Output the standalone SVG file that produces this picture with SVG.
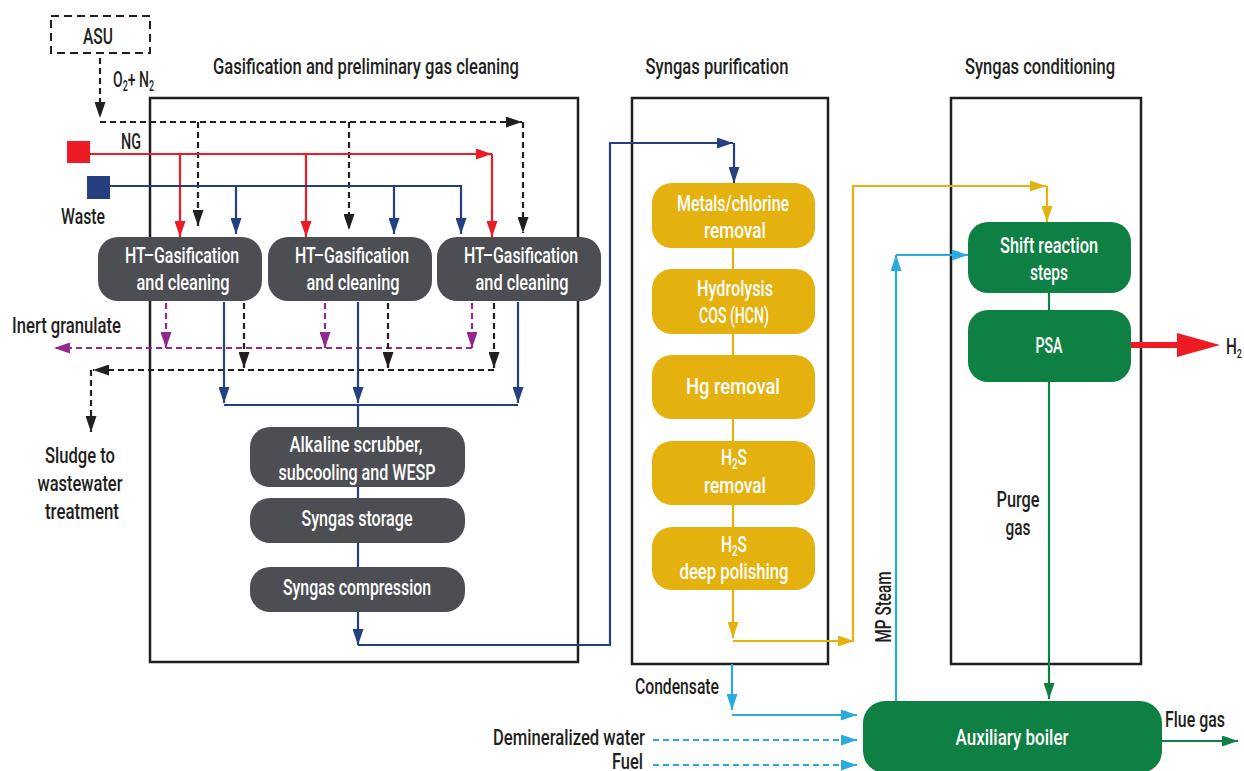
<svg xmlns="http://www.w3.org/2000/svg" width="1244" height="771" viewBox="0 0 1244 771">
<style>
.t{font-family:Roboto,"Liberation Sans",sans-serif;font-weight:500;font-size:22px;fill:#231f20}
.m{text-anchor:middle}
.e{text-anchor:end}
.w{fill:#ffffff}
.frame{fill:none;stroke:#231f20;stroke-width:2.5}
.gray{fill:#4d4e53}
.yel{fill:#e5b10f}
.grn{fill:#0f8043}
.c{fill:none;stroke-width:2.2}
.d{stroke-dasharray:6 4}
.k{stroke:#231f20}
.r{stroke:#ed1c24}
.n{stroke:#263f80}
.p{stroke:#92278f}
.y{stroke:#e5b10f}
.g{stroke:#0f8043}
.b{stroke:#29abe2}
</style>
<defs>
<marker id="ak" viewBox="0 0 16 11" refX="16" refY="5.5" markerWidth="16" markerHeight="11" markerUnits="userSpaceOnUse" orient="auto"><path d="M0,0L16,5.5L0,11z" fill="#231f20"/></marker>
<marker id="ar" viewBox="0 0 16 11" refX="16" refY="5.5" markerWidth="16" markerHeight="11" markerUnits="userSpaceOnUse" orient="auto"><path d="M0,0L16,5.5L0,11z" fill="#ed1c24"/></marker>
<marker id="an" viewBox="0 0 16 11" refX="16" refY="5.5" markerWidth="16" markerHeight="11" markerUnits="userSpaceOnUse" orient="auto"><path d="M0,0L16,5.5L0,11z" fill="#263f80"/></marker>
<marker id="ap" viewBox="0 0 16 11" refX="16" refY="5.5" markerWidth="16" markerHeight="11" markerUnits="userSpaceOnUse" orient="auto"><path d="M0,0L16,5.5L0,11z" fill="#92278f"/></marker>
<marker id="ay" viewBox="0 0 16 11" refX="16" refY="5.5" markerWidth="16" markerHeight="11" markerUnits="userSpaceOnUse" orient="auto"><path d="M0,0L16,5.5L0,11z" fill="#e5b10f"/></marker>
<marker id="ag" viewBox="0 0 16 11" refX="16" refY="5.5" markerWidth="16" markerHeight="11" markerUnits="userSpaceOnUse" orient="auto"><path d="M0,0L16,5.5L0,11z" fill="#0f8043"/></marker>
<marker id="ab" viewBox="0 0 16 11" refX="16" refY="5.5" markerWidth="16" markerHeight="11" markerUnits="userSpaceOnUse" orient="auto"><path d="M0,0L16,5.5L0,11z" fill="#29abe2"/></marker>
</defs>
<rect width="1244" height="771" fill="#ffffff"/>

<g id="frames">
<rect id="frame-gasification" class="frame" x="150" y="98" width="428" height="564"/>
<rect id="frame-purification" class="frame" x="632" y="98" width="196" height="566"/>
<rect id="frame-conditioning" class="frame" x="951" y="98" width="190" height="566"/>
<text class="t m" x="366" y="74" textLength="306" lengthAdjust="spacingAndGlyphs">Gasification and preliminary gas cleaning</text>
<text class="t m" x="717" y="74" textLength="143" lengthAdjust="spacingAndGlyphs">Syngas purification</text>
<text class="t m" x="1040" y="74" textLength="150" lengthAdjust="spacingAndGlyphs">Syngas conditioning</text>
</g>

<g id="connectors">
<!-- ASU / O2+N2 black dashed -->
<path class="c d k" d="M100,58V118" marker-end="url(#ak)"/>
<path class="c d k" d="M100,122H522" marker-end="url(#ak)"/>
<path class="c d k" d="M523,122V233" marker-end="url(#ak)"/>
<path class="c d k" d="M198,122V226" marker-end="url(#ak)"/>
<path class="c d k" d="M349,122V230" marker-end="url(#ak)"/>
<!-- NG red -->
<path class="c r" d="M90,154H492" marker-end="url(#ar)"/>
<path class="c r" d="M492,154V237" marker-end="url(#ar)"/>
<path class="c r" d="M180,154V237" marker-end="url(#ar)"/>
<path class="c r" d="M306,154V237" marker-end="url(#ar)"/>
<!-- Waste navy -->
<path class="c n" d="M110,186H461V234" marker-end="url(#an)"/>
<path class="c n" d="M236,186V234" marker-end="url(#an)"/>
<path class="c n" d="M394,186V234" marker-end="url(#an)"/>
<!-- inert granulate purple dashed -->
<path class="c d p" d="M166,303V348" marker-end="url(#ap)"/>
<path class="c d p" d="M325,303V348" marker-end="url(#ap)"/>
<path class="c d p" d="M472,303V348" marker-end="url(#ap)"/>
<path class="c d p" d="M472,348H54" marker-end="url(#ap)"/>
<!-- sludge black dashed -->
<path class="c d k" d="M244,303V368" marker-end="url(#ak)"/>
<path class="c d k" d="M388,303V368" marker-end="url(#ak)"/>
<path class="c d k" d="M494,303V368" marker-end="url(#ak)"/>
<path class="c d k" d="M494,370H93" marker-end="url(#ak)"/>
<path class="c d k" d="M91,370V432" marker-end="url(#ak)"/>
<!-- syngas navy -->
<path class="c n" d="M224,302V403" marker-end="url(#an)"/>
<path class="c n" d="M358,302V403" marker-end="url(#an)"/>
<path class="c n" d="M518,302V403" marker-end="url(#an)"/>
<path class="c n" d="M224,405H518M358,405V427M358,487V498M358,543V567"/>
<path class="c n" d="M358,612V645" marker-end="url(#an)"/>
<path class="c n" d="M358,645H610V143H733" marker-end="url(#an)"/>
<path class="c n" d="M734,143V183" marker-end="url(#an)"/>
<!-- purification yellow -->
<path class="c y" d="M733,248V269M733,334V355M733,419V441M733,505V527"/>
<path class="c y" d="M733,590V638" marker-end="url(#ay)"/>
<path class="c y" d="M733,641H854" marker-end="url(#ay)"/>
<path class="c y" d="M853,641V186H1046" marker-end="url(#ay)"/>
<path class="c y" d="M1047,186V222" marker-end="url(#ay)"/>
<!-- conditioning green -->
<path class="c g" d="M1049,293V310"/>
<path class="c g" d="M1049,382V699" marker-end="url(#ag)"/>
<path class="c g" d="M1162,741H1238" marker-end="url(#ag)"/>
<!-- steam / water light blue -->
<path class="c b" d="M896,701V255" marker-end="url(#ab)"/>
<path class="c b" d="M896,255H968" marker-end="url(#ab)"/>
<path class="c b" d="M732,664V710" marker-end="url(#ab)"/>
<path class="c b" d="M732,715H857" marker-end="url(#ab)"/>
<path class="c d b" d="M653,740H857" marker-end="url(#ab)"/>
<path class="c d b" d="M653,765H857" marker-end="url(#ab)"/>
<!-- H2 product -->
<path d="M1131,345H1180" stroke="#ed1c24" stroke-width="6" fill="none"/>
<polygon points="1177,333 1220,345 1177,357" fill="#ed1c24"/>
</g>

<g id="asu">
<rect x="51" y="16" width="99" height="37" fill="none" stroke="#231f20" stroke-width="2" stroke-dasharray="8 5"/>
<text class="t m" x="98" y="44" textLength="30" lengthAdjust="spacingAndGlyphs">ASU</text>
</g>
<g id="o2n2-label"><text class="t" x="113" y="87" textLength="41" lengthAdjust="spacingAndGlyphs">O<tspan font-size="14" dy="4">2</tspan><tspan dy="-4">+ N</tspan><tspan font-size="14" dy="4">2</tspan></text></g>
<g id="ng">
<rect x="67" y="141" width="23" height="22" fill="#ed1c24"/>
<text class="t" x="121" y="149" textLength="20" lengthAdjust="spacingAndGlyphs">NG</text>
</g>
<g id="waste">
<rect x="87" y="176" width="23" height="23" fill="#263f80"/>
<text class="t" x="61" y="224" textLength="44" lengthAdjust="spacingAndGlyphs">Waste</text>
</g>

<g id="ht1">
<rect class="gray" x="98" y="237" width="164" height="64" rx="20"/>
<text class="t m w" x="182" y="263" textLength="114" lengthAdjust="spacingAndGlyphs">HT–Gasification</text>
<text class="t m w" x="183" y="290" textLength="93" lengthAdjust="spacingAndGlyphs">and cleaning</text>
</g>
<g id="ht2">
<rect class="gray" x="268" y="237" width="164" height="64" rx="20"/>
<text class="t m w" x="352" y="263" textLength="114" lengthAdjust="spacingAndGlyphs">HT–Gasification</text>
<text class="t m w" x="353" y="290" textLength="93" lengthAdjust="spacingAndGlyphs">and cleaning</text>
</g>
<g id="ht3">
<rect class="gray" x="437" y="237" width="164" height="64" rx="20"/>
<text class="t m w" x="521" y="263" textLength="114" lengthAdjust="spacingAndGlyphs">HT–Gasification</text>
<text class="t m w" x="522" y="290" textLength="93" lengthAdjust="spacingAndGlyphs">and cleaning</text>
</g>

<g id="inert-granulate"><text class="t" x="12" y="333" textLength="109" lengthAdjust="spacingAndGlyphs">Inert granulate</text></g>
<g id="sludge">
<text class="t m" x="80" y="463" textLength="70" lengthAdjust="spacingAndGlyphs">Sludge to</text>
<text class="t m" x="80" y="491" textLength="85" lengthAdjust="spacingAndGlyphs">wastewater</text>
<text class="t m" x="82" y="519" textLength="74" lengthAdjust="spacingAndGlyphs">treatment</text>
</g>

<g id="alkaline">
<rect class="gray" x="250" y="427" width="215" height="60" rx="20"/>
<text class="t m w" x="356" y="452" textLength="133" lengthAdjust="spacingAndGlyphs">Alkaline scrubber,</text>
<text class="t m w" x="357" y="480" textLength="157" lengthAdjust="spacingAndGlyphs">subcooling and WESP</text>
</g>
<g id="storage">
<rect class="gray" x="250" y="498" width="215" height="45" rx="20"/>
<text class="t m w" x="357" y="526" textLength="111" lengthAdjust="spacingAndGlyphs">Syngas storage</text>
</g>
<g id="compression">
<rect class="gray" x="250" y="567" width="215" height="45" rx="20"/>
<text class="t m w" x="357" y="595" textLength="148" lengthAdjust="spacingAndGlyphs">Syngas compression</text>
</g>

<g id="metals">
<rect class="yel" x="652" y="183" width="163" height="65" rx="20"/>
<text class="t m w" x="733" y="211" textLength="112" lengthAdjust="spacingAndGlyphs">Metals/chlorine</text>
<text class="t m w" x="735" y="238" textLength="62" lengthAdjust="spacingAndGlyphs">removal</text>
</g>
<g id="hydrolysis">
<rect class="yel" x="652" y="269" width="163" height="65" rx="20"/>
<text class="t m w" x="735" y="296" textLength="76" lengthAdjust="spacingAndGlyphs">Hydrolysis</text>
<text class="t m w" x="734" y="323" textLength="70" lengthAdjust="spacingAndGlyphs">COS (HCN)</text>
</g>
<g id="hg">
<rect class="yel" x="652" y="355" width="163" height="64" rx="20"/>
<text class="t m w" x="733" y="394" textLength="94" lengthAdjust="spacingAndGlyphs">Hg removal</text>
</g>
<g id="h2s-removal">
<rect class="yel" x="652" y="441" width="163" height="64" rx="20"/>
<text class="t m w" x="734" y="465" textLength="26" lengthAdjust="spacingAndGlyphs">H<tspan font-size="14" dy="4">2</tspan><tspan dy="-4">S</tspan></text>
<text class="t m w" x="735" y="493" textLength="62" lengthAdjust="spacingAndGlyphs">removal</text>
</g>
<g id="h2s-polishing">
<rect class="yel" x="652" y="527" width="163" height="63" rx="20"/>
<text class="t m w" x="734" y="552" textLength="26" lengthAdjust="spacingAndGlyphs">H<tspan font-size="14" dy="4">2</tspan><tspan dy="-4">S</tspan></text>
<text class="t m w" x="734" y="579" textLength="109" lengthAdjust="spacingAndGlyphs">deep polishing</text>
</g>

<g id="shift">
<rect class="grn" x="968" y="222" width="163" height="71" rx="20"/>
<text class="t m w" x="1049" y="253" textLength="98" lengthAdjust="spacingAndGlyphs">Shift reaction</text>
<text class="t m w" x="1049" y="280" textLength="38" lengthAdjust="spacingAndGlyphs">steps</text>
</g>
<g id="psa">
<rect class="grn" x="968" y="310" width="163" height="72" rx="20"/>
<text class="t m w" x="1049" y="353" textLength="27" lengthAdjust="spacingAndGlyphs">PSA</text>
</g>
<g id="h2-label"><text class="t" x="1226" y="354" textLength="16" lengthAdjust="spacingAndGlyphs">H<tspan font-size="13" dy="4">2</tspan></text></g>
<g id="purge-label">
<text class="t m" x="1018" y="507" textLength="43" lengthAdjust="spacingAndGlyphs">Purge</text>
<text class="t m" x="1018" y="535" textLength="25" lengthAdjust="spacingAndGlyphs">gas</text>
</g>
<g id="mp-steam-label"><text class="t m" transform="translate(891,607) rotate(-90)" x="0" y="0" textLength="71" lengthAdjust="spacingAndGlyphs">MP Steam</text></g>
<g id="condensate-label"><text class="t" x="635" y="694" textLength="84" lengthAdjust="spacingAndGlyphs">Condensate</text></g>
<g id="demin-label"><text class="t e" x="645" y="745" textLength="152" lengthAdjust="spacingAndGlyphs">Demineralized water</text></g>
<g id="fuel-label"><text class="t e" x="643" y="769" textLength="31" lengthAdjust="spacingAndGlyphs">Fuel</text></g>
<g id="boiler">
<rect class="grn" x="863" y="701" width="299" height="72" rx="22"/>
<text class="t m w" x="1012" y="745" textLength="113" lengthAdjust="spacingAndGlyphs">Auxiliary boiler</text>
</g>
<g id="flue-gas-label"><text class="t" x="1165" y="727" textLength="60" lengthAdjust="spacingAndGlyphs">Flue gas</text></g>
</svg>
